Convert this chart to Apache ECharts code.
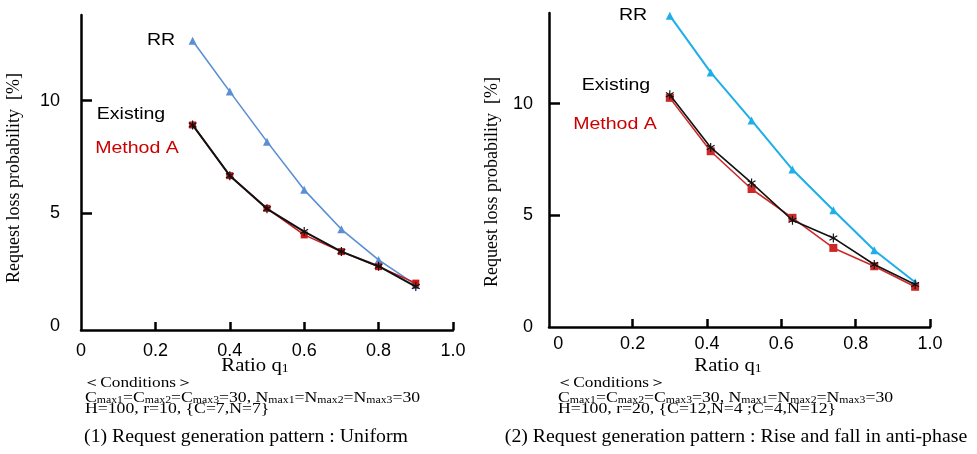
<!DOCTYPE html>
<html>
<head>
<meta charset="utf-8">
<script src="https://cdn.jsdelivr.net/npm/echarts@6/dist/echarts.min.js"></script>
<style>
  html, body { margin: 0; padding: 0; background: #fff; }
  #chart { width: 977px; height: 454px; }
</style>
</head>
<body>
<div id="chart"></div>
<script>
// (1) Uniform
const xLeft = [0.3, 0.4, 0.5, 0.6, 0.7, 0.8, 0.9]
const rrLeft = [12.66, 10.4, 8.18, 6.04, 4.29, 2.93, 1.82]
const methodALeft = [8.92, 6.67, 5.22, 4.04, 3.3, 2.63, 1.9]
const existingLeft = [8.92, 6.67, 5.2, 4.19, 3.3, 2.65, 1.75]

// (2) Rise and fall in anti-phase
const xRight = [0.3, 0.41, 0.52, 0.63, 0.74, 0.85, 0.96]
const rrRight = [13.94, 11.4, 9.25, 7.05, 5.23, 3.44, 2.0]
const methodARight = [10.26, 7.87, 6.18, 4.89, 3.54, 2.72, 1.8]
const existingRight = [10.4, 8.04, 6.45, 4.78, 3.99, 2.8, 1.9]

const xTickValues = [0.2, 0.4, 0.6, 0.8, 1.0]
const xLabelValues = [0, 0.2, 0.4, 0.6, 0.8, 1.0]
const yTickValues = [5, 10]
const yLabelValues = [0, 5, 10]

const SANS = 'Liberation Sans, Arial, sans-serif'
const SERIF = 'Liberation Serif, Times New Roman, serif'

function pairs(xs, ys) {
  return xs.map((x, i) => [x, ys[i]])
}

// asterisk marker made of three thin bars
function asteriskPath() {
  const w = 0.13
  let d = ''
  ;[0, 60, 120].forEach((deg) => {
    const a = (deg * Math.PI) / 180
    const dx = Math.sin(a), dy = -Math.cos(a)
    const nx = -dy, ny = dx
    const pts = [
      [dx + nx * w, dy + ny * w],
      [dx - nx * w, dy - ny * w],
      [-dx - nx * w, -dy - ny * w],
      [-dx + nx * w, -dy + ny * w]
    ]
    d += 'M' + pts.map((p) => p[0].toFixed(3) + ',' + p[1].toFixed(3)).join('L') + 'Z'
  })
  return 'path://' + d
}
const STAR = asteriskPath()

function xAxisFor(gridIndex, min, margin) {
  return {
    type: 'value',
    gridIndex,
    min,
    max: 1,
    axisLine: { onZero: false, lineStyle: { color: '#000', width: 2.5 } },
    axisTick: { inside: true, length: 8, customValues: xTickValues, lineStyle: { color: '#000', width: 2.5 } },
    axisLabel: {
      customValues: xLabelValues,
      margin,
      color: '#000',
      fontFamily: SANS,
      fontSize: 18,
      formatter: (v) => (v === 0 ? '0' : v.toFixed(1))
    },
    splitLine: { show: false }
  }
}

function yAxisFor(gridIndex, min, max, margin) {
  return {
    type: 'value',
    gridIndex,
    min,
    max,
    axisLine: { show: true, onZero: false, lineStyle: { color: '#000', width: 2.5 } },
    axisTick: { inside: true, length: 11, customValues: yTickValues, lineStyle: { color: '#000', width: 2.5 } },
    axisLabel: {
      customValues: yLabelValues,
      margin,
      color: '#000',
      fontFamily: SANS,
      fontSize: 18
    },
    splitLine: { show: false }
  }
}

function lineSeries(idx, data, color, symbol, size, width, z) {
  return {
    type: 'line',
    xAxisIndex: idx,
    yAxisIndex: idx,
    data,
    symbol,
    symbolSize: size,
    symbolKeepAspect: true,
    z,
    lineStyle: { color, width },
    itemStyle: { color, borderWidth: 0 },
    silent: true
  }
}

function label(text, x, y, color, opts) {
  return {
    type: 'text',
    x,
    y,
    scaleX: (opts && opts.scaleX) || 1.15,
    rotation: (opts && opts.rotation) || 0,
    style: {
      text,
      fill: color,
      font: (opts && opts.font) || '17px ' + SANS,
      align: (opts && opts.align) || 'center',
      verticalAlign: 'middle',
      rich: opts && opts.rich
    }
  }
}

const subRich = {
  n: { fontFamily: SERIF, fontSize: 15, lineHeight: 15, verticalAlign: 'top', fill: '#000' },
  s: { fontFamily: SERIF, fontSize: 10, lineHeight: 10, padding: [8, 0, 0, 0], verticalAlign: 'bottom', fill: '#000' }
}
const condLine2 =
  '{n|C}{s|max1}{n|=C}{s|max2}{n|=C}{s|max3}{n|=30, N}{s|max1}{n|=N}{s|max2}{n|=N}{s|max3}{n|=30}'

const ratioRich = {
  q: { fontFamily: SERIF, fontSize: 18, lineHeight: 18, verticalAlign: 'top', fill: '#000' },
  s: { fontFamily: SERIF, fontSize: 12, lineHeight: 12, padding: [9, 0, 0, 0], verticalAlign: 'bottom', fill: '#000' }
}

function conditions(x0, yTop, line3) {
  return [
    label('＜Conditions＞', x0 - 2, yTop, '#000', { font: '15px ' + SERIF, align: 'left', scaleX: 1.15 }),
    label(condLine2, x0, yTop + 15, '#000', { align: 'left', scaleX: 1.18, rich: subRich }),
    label(line3, x0, yTop + 26, '#000', { font: '15px ' + SERIF, align: 'left', scaleX: 1.18 })
  ]
}

const chart = echarts.init(document.getElementById('chart'))

chart.setOption({
  animation: false,
  backgroundColor: '#fff',
  grid: [
    { left: 81, top: 15, width: 372, height: 315 },
    { left: 549, top: 13, width: 381, height: 314 }
  ],
  xAxis: [xAxisFor(0, 0, 12), xAxisFor(1, -0.025, 8)],
  yAxis: [yAxisFor(0, -0.18, 13.8, 21), yAxisFor(1, 0, 14.06, 16)],
  series: [
    lineSeries(0, pairs(xLeft, rrLeft), '#5a8fd4', 'triangle', 8, 1.6, 2),
    lineSeries(0, pairs(xLeft, methodALeft), '#c81818', 'rect', 7, 1.5, 3),
    lineSeries(0, pairs(xLeft, existingLeft), '#111', STAR, 9, 2, 4),
    lineSeries(1, pairs(xRight, rrRight), '#1eaee8', 'triangle', 8, 2, 2),
    lineSeries(1, pairs(xRight, methodARight), '#cc2a2a', 'rect', 8, 1.6, 3),
    lineSeries(1, pairs(xRight, existingRight), '#111', STAR, 9, 1.6, 4)
  ],
  graphic: [
    label('RR', 161, 40, '#000'),
    label('Existing', 131, 114, '#000'),
    label('Method A', 137, 148, '#cc0000'),
    label('RR', 633, 15, '#000'),
    label('Existing', 616, 85, '#000'),
    label('Method A', 615, 124, '#cc0000'),
    label('Request loss probability  [%]', 14, 178, '#000', { font: '18px ' + SERIF, rotation: Math.PI / 2, scaleX: 1 }),
    label('Request loss probability  [%]', 492, 182, '#000', { font: '18px ' + SERIF, rotation: Math.PI / 2, scaleX: 1 }),
    label('Ratio {q|q}{s|1}', 255, 366, '#000', { font: '18px ' + SERIF, scaleX: 1.15, rich: ratioRich }),
    label('Ratio {q|q}{s|1}', 728, 366, '#000', { font: '18px ' + SERIF, scaleX: 1.15, rich: ratioRich }),
    ...conditions(85, 383, 'H=100, r=10, {C=7,N=7}'),
    ...conditions(558, 383, 'H=100, r=20, {C=12,N=4 ;C=4,N=12}'),
    label('(1) Request generation pattern : Uniform', 246, 437, '#000', { font: '18px ' + SERIF, scaleX: 1.1 }),
    label('(2) Request generation pattern : Rise and fall in anti-phase', 736, 437, '#000', { font: '18px ' + SERIF, scaleX: 1.1 })
  ]
})
</script>
</body>
</html>
